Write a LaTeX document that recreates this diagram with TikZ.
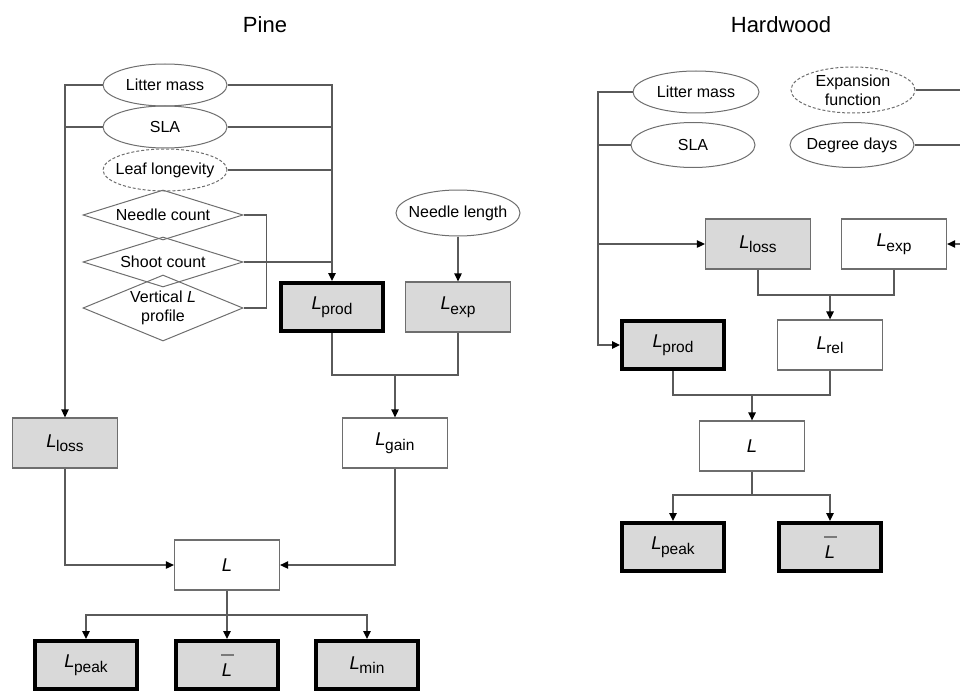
\documentclass[tikz,border=0pt]{standalone}
\usepackage{fontspec}
\setmainfont{Liberation Sans}
\usetikzlibrary{arrows.meta,shapes.geometric}
\definecolor{linegray}{HTML}{5A5A5A}
\definecolor{edgegray}{HTML}{6E6E6E}
\definecolor{boxgray}{HTML}{D9D9D9}
\definecolor{bargray}{HTML}{7A7A7A}
\newcommand{\Lsub}[1]{\textit{L}\kern-0.5pt\raisebox{-4.5pt}{\fontsize{15.5}{15.5}\selectfont #1}}
\newcommand{\Lmean}{\textit{L}\kern-11pt{\color{bargray}\rule[20pt]{13pt}{2pt}}\kern-2pt}

\begin{document}
\begin{tikzpicture}[x=1pt, y=-1pt, color=linegray, line width=1.3pt,
      >={Triangle[length=8pt,width=7.5pt,color=black]},
      every node/.append style={font=\fontsize{16}{19}\selectfont, text=black},
      box/.style={rectangle, draw=edgegray, line width=1.3pt, minimum width=105pt, minimum height=50pt, font=\fontsize{18.5}{20}\selectfont},
      shaded/.style={box, fill=boxgray},
      result/.style={shaded, draw=black, line width=4pt, minimum width=102pt, minimum height=48pt},
      oval/.style={ellipse, draw=edgegray, line width=1pt, minimum width=124pt, minimum height=42pt, inner xsep=-14pt, inner ysep=0pt, align=center},
      guess/.style={oval, dash pattern=on 3pt off 2pt},
      choice/.style={diamond, draw=edgegray, line width=1pt, aspect=3.2, inner sep=0pt, minimum width=160pt, minimum height=50pt, align=center}]
    \tikzstyle{title} = [font=\fontsize{22}{26}\selectfont]
    \useasboundingbox (0,0) rectangle (960,690);
    \clip (0,0) rectangle (960,690);

    \node (pine) at (265,25) [title] {Pine};
    \node (hard) at (781,25) [title] {Hardwood};

    \node (lm1) at (165,85) [oval] {Litter mass};
    \node (sla1) at (165,127) [oval] {SLA};
    \node (ll1) at (165,170) [guess] {Leaf longevity};
    \node (nc) at (163,215) [choice] {Needle count};
    \node (sc) at (163,262) [choice] {Shoot count};
    \node (vp) at (163,308) [choice, aspect=2.4, minimum height=66pt] {Vertical \textit{L}\\profile};
    \node (nl) at (458,213) [oval, minimum height=46pt] {Needle length};
    \node (prod1) at (332,307) [result] {\Lsub{prod}};
    \node (exp1) at (458,307) [shaded] {\Lsub{exp}};
    \node (loss1) at (65,443) [shaded] {\Lsub{loss}};
    \node (gain) at (395,443) [box] {\Lsub{gain}};
    \node (L1) at (227,565) [box] {\textit{L}};
    \node (peak1) at (86,665) [result] {\Lsub{peak}};
    \node (bar1) at (227,665) [result] {\Lmean};
    \node (min1) at (367,665) [result] {\Lsub{min}};

    \draw[->] (lm1) -| (loss1);
    \draw (sla1) -- (sla1 -| loss1);
    \draw[->] (lm1) -| (prod1);
    \draw (sla1) -- (sla1 -| prod1);
    \draw (ll1) -- (ll1 -| prod1);
    \draw (sc) -- (sc -| prod1);
    \draw (nc.east) -- ++(23,0) |- (vp.east);
    \draw[->] (nl) -- (exp1);
    \coordinate (j1) at (395,375);
    \draw (prod1) |- (j1) -| (exp1);
    \draw[->] (j1) -- (gain);
    \draw[->] (loss1) |- (L1);
    \draw[->] (gain) |- (L1);
    \coordinate (j2) at (227,615);
    \draw (L1) -- (j2);
    \draw[->] (j2) -| (peak1);
    \draw[->] (j2) -- (bar1);
    \draw[->] (j2) -| (min1);

    \node (lm2) at (696,92) [oval, minimum width=126pt] {Litter mass};
    \node (sla2) at (693,145) [oval, minimum height=45pt] {SLA};
    \node (ef) at (853,90) [guess, minimum height=46pt] {Expansion\\function};
    \node (dd) at (852,145) [oval, minimum height=45pt] {Degree days};
    \node (loss2) at (758,244) [shaded] {\Lsub{loss}};
    \node (exp2) at (894,244) [box] {\Lsub{exp}};
    \node (prod2) at (673,345) [result] {\Lsub{prod}};
    \node (rel) at (830,345) [box] {\Lsub{rel}};
    \node (L2) at (752,446) [box] {\textit{L}};
    \node (peak2) at (673,547) [result] {\Lsub{peak}};
    \node (bar2) at (830,547) [result] {\Lmean};

    \coordinate (w2) at (598,92);
    \draw[->] (lm2) -- (w2) |- (prod2);
    \draw (sla2) -- (sla2 -| w2);
    \draw[->] (w2 |- loss2) -- (loss2);
    \coordinate (e2) at (963,90);
    \draw[->] (ef) -- (e2) |- (exp2);
    \draw (dd) -- (dd -| e2);
    \coordinate (j3) at (830,295);
    \draw (loss2) |- (j3) -| (exp2);
    \draw[->] (j3) -- (rel);
    \coordinate (j4) at (752,395);
    \draw (prod2) |- (j4) -| (rel);
    \draw[->] (j4) -- (L2);
    \coordinate (j5) at (752,495);
    \draw (L2) -- (j5);
    \draw[->] (j5) -| (peak2);
    \draw[->] (j5) -| (bar2);
  \end{tikzpicture}
\end{document}
